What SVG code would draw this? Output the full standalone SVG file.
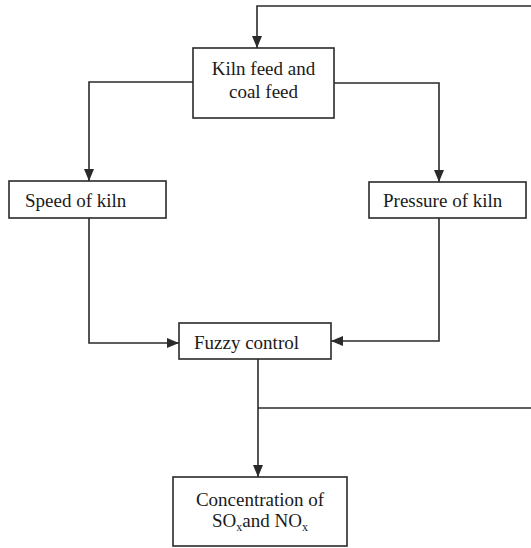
<svg xmlns="http://www.w3.org/2000/svg" width="531" height="548" viewBox="0 0 531 548">
<defs>
<marker id="arr" viewBox="0 0 12 10" refX="12" refY="5" markerWidth="12" markerHeight="10" markerUnits="userSpaceOnUse" orient="auto">
<path d="M0,0 L12,5 L0,10 Z" fill="#2a2a2a"/>
</marker>
<style>
.box{fill:#ffffff;stroke:#2a2a2a;stroke-width:1.6}
.lbl{font-family:"Liberation Serif","Times New Roman",serif;font-size:19px;fill:#1a1a1a}
.c{text-anchor:middle}
.ln{fill:none;stroke:#2a2a2a;stroke-width:1.6}
</style>
</defs>
<rect width="531" height="548" fill="#ffffff"/>
<g id="connectors">
<polyline class="ln" points="531,6 257,6 257,48" marker-end="url(#arr)"/>
<polyline class="ln" points="193,82 89,82 89,181" marker-end="url(#arr)"/>
<polyline class="ln" points="334,83 439,83 439,182" marker-end="url(#arr)"/>
<polyline class="ln" points="89,218 89,343 179,343" marker-end="url(#arr)"/>
<polyline class="ln" points="439,218 439,341 331,341" marker-end="url(#arr)"/>
<polyline class="ln" points="258,359 258,477" marker-end="url(#arr)"/>
<polyline class="ln" points="258,408 531,408"/>
</g>
<g id="kiln-feed">
<rect class="box" x="193" y="48" width="141" height="70"/>
<text class="lbl c" x="263.5" y="75">Kiln feed and</text>
<text class="lbl c" x="263.5" y="98">coal feed</text>
</g>
<g id="speed">
<rect class="box" x="9" y="181" width="157" height="37"/>
<text class="lbl" x="25" y="207">Speed of kiln</text>
</g>
<g id="pressure">
<rect class="box" x="369" y="182" width="157" height="36"/>
<text class="lbl" x="383" y="207">Pressure of kiln</text>
</g>
<g id="fuzzy">
<rect class="box" x="179" y="323" width="152" height="36"/>
<text class="lbl" x="194" y="349">Fuzzy control</text>
</g>
<g id="concentration">
<rect class="box" x="173" y="477" width="174" height="69"/>
<text class="lbl c" x="260" y="506">Concentration of</text>
<text class="lbl c" x="260" y="527">SO<tspan font-size="12" dy="4">x</tspan><tspan dy="-4">and NO</tspan><tspan font-size="12" dy="4">x</tspan></text>
</g>
</svg>
